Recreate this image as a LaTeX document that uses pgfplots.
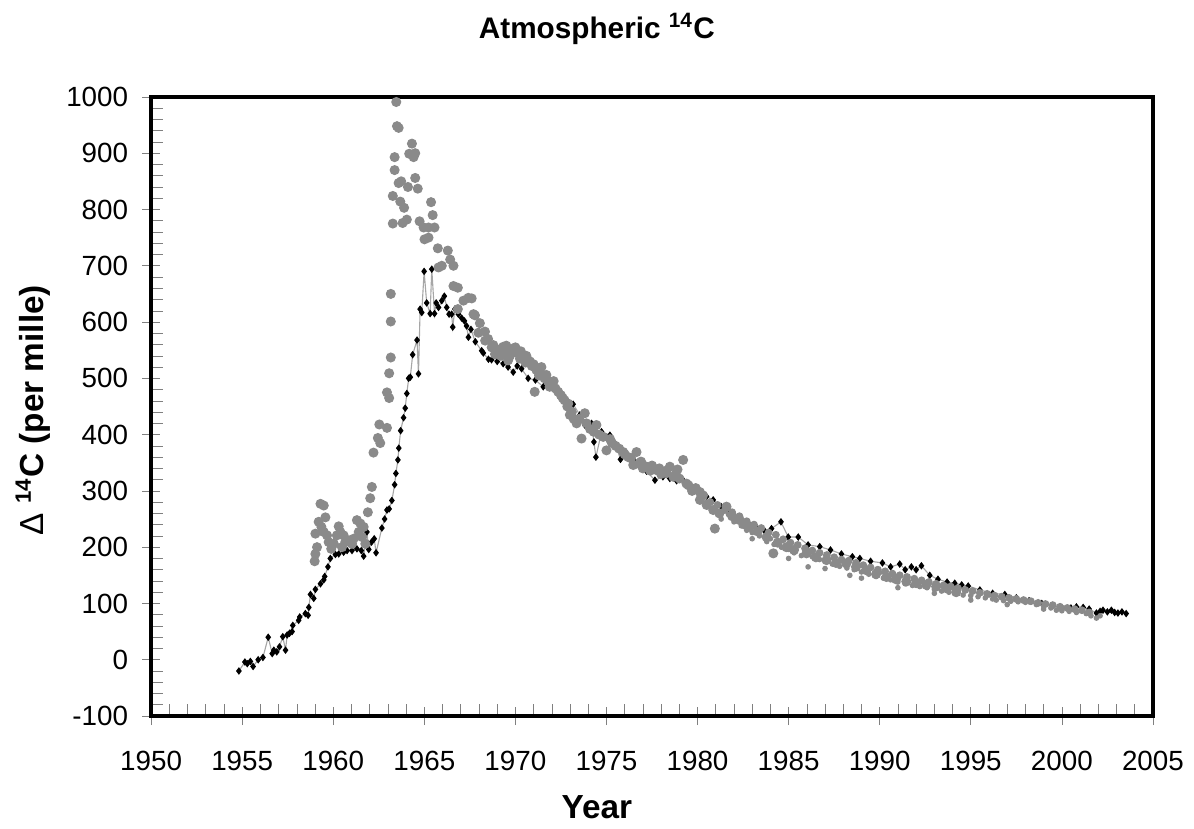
\documentclass[border=0pt]{standalone}
\usepackage{fontspec}
\setmainfont{Liberation Sans}
\usepackage{pgfplots}
\pgfplotsset{compat=1.18}
\definecolor{dotgray}{RGB}{138,138,138}
\begin{document}
\begin{tikzpicture}
\begin{axis}[
  scale only axis, width=360.7pt, height=222.9pt,
  xmin=1950, xmax=2005, ymin=-100, ymax=1000,
  xtick distance=5, ytick distance=100,
  minor x tick num=4, minor y tick num=4,
  xtick pos=bottom, ytick pos=left,
  tick align=center, major tick length=6.5pt, minor tick length=4.4pt,
  minor x tick style={yshift=2.2pt}, minor y tick style={xshift=2.2pt},
  axis line style={line width=1.4pt},
  ticklabel style={font=\fontsize{10}{12}\selectfont},
  xticklabel style={yshift=-6pt},
  yticklabel style={xshift=-1.5pt},
  /pgf/number format/1000 sep={},
  /pgf/number format/assume math mode=true,
  clip=false,
]
% black series (line with small markers)
\addplot[color=gray!70, line width=0.4pt, mark=diamond*, mark size=1.05pt,
  mark options={draw=black, fill=black}] coordinates {
(1954.82,-20)(1955.15,-4)(1955.28,-7)(1955.45,-3)(1955.6,-12)(1955.88,0)
(1956.14,4)(1956.43,40)(1956.65,11)(1956.74,17)(1956.9,14)(1957.05,23)
(1957.23,41)(1957.38,17)(1957.47,44)(1957.6,47)(1957.74,50)(1957.78,61)
(1958.1,70)(1958.16,76)(1958.47,82)(1958.62,79)(1958.66,93)(1958.75,116)
(1958.93,109)(1959.02,125)(1959.3,135)(1959.48,142)(1959.53,148)(1959.71,165)
(1959.84,180)(1960.12,187)(1960.3,188)(1960.57,191)(1960.76,194)(1961.03,194)
(1961.3,197)(1961.54,194)(1961.67,184)(1961.85,227)(1961.95,196)(1962.1,209)
(1962.25,215)(1962.35,190)(1962.67,234)(1962.82,250)(1962.95,266)(1963.07,268)
(1963.22,283)(1963.37,311)(1963.44,331)(1963.55,355)(1963.6,376)(1963.7,407)
(1963.86,430)(1963.95,447)(1964.04,473)(1964.14,500)(1964.23,502)(1964.36,542)
(1964.6,568)(1964.68,508)(1964.77,623)(1964.86,617)(1964.99,690)(1965.13,634)
(1965.32,615)(1965.41,694)(1965.56,615)(1965.65,634)(1965.78,626)(1965.96,638)
(1966.1,646)(1966.23,626)(1966.36,614)(1966.5,614)(1966.56,591)(1966.68,623)
(1966.87,614)(1967.05,607)(1967.2,602)(1967.32,593)(1967.42,573)(1967.56,587)
(1967.8,565)(1968.15,549)(1968.24,545)(1968.52,534)(1968.69,533)(1969.0,530)
(1969.33,526)(1969.6,520)(1969.88,511)(1970.1,522)(1970.34,517)(1970.7,500)
(1971.1,497)(1971.53,485)(1972.08,488)(1972.53,467)(1972.81,449)(1973.17,454)
(1973.54,435)(1973.81,417)(1974.18,420)(1974.31,387)(1974.42,360)(1974.73,405)
(1975.19,399)(1975.41,387)(1975.55,378)(1975.77,356)(1976.1,367)(1976.5,355)
(1976.83,349)(1977.2,335)(1977.66,319)(1978.1,325)(1978.48,322)(1978.85,318)
(1979.21,319)(1979.6,310)(1979.94,304)(1980.49,290)(1980.86,284)(1981.3,272)
(1981.8,262)(1982.3,250)(1982.8,242)(1983.3,232)(1983.7,228)(1984.06,233)
(1984.58,245)(1984.98,218)(1985.53,218)(1986.07,204)(1986.71,201)(1987.3,195)
(1987.9,188)(1988.5,183)(1988.91,180)(1989.5,175)(1990.15,172)(1990.6,165)
(1991.1,170)(1991.4,160)(1991.74,165)(1992.0,160)(1992.29,167)(1992.75,150)
(1993.2,143)(1993.7,138)(1994.12,136)(1994.5,133)(1994.86,131)(1995.5,124)
(1996.2,118)(1996.87,116)(1997.5,110)(1998.2,105)(1998.9,100)(1999.5,96)
(2000.0,93)(2000.5,92)(2000.8,94)(2001.17,93)(2001.5,90)(2001.9,83)
(2002.1,86)(2002.26,88)(2002.5,85)(2002.72,88)(2002.9,84)(2003.08,83)
(2003.3,85)(2003.53,82)
};
% grey series, large dots
\addplot[only marks, mark=*, mark size=1.6pt, color=dotgray] coordinates {
(1958.98,175)(1959.02,188)(1959.02,224)(1959.11,200)(1959.2,245)(1959.3,277)
(1959.35,236)(1959.48,274)(1959.48,227)(1959.57,253)(1959.66,221)(1959.75,209)
(1959.89,197)(1960.03,206)(1960.2,221)(1960.3,237)(1960.39,227)(1960.48,200)
(1960.57,221)(1960.66,209)(1960.88,212)(1961.03,206)(1961.12,215)(1961.3,248)
(1961.4,227)(1961.49,242)(1961.58,218)(1961.67,236)(1961.76,206)(1961.9,262)
(1962.03,287)(1962.12,307)(1962.21,368)(1962.45,394)(1962.53,418)(1962.58,385)
(1962.95,412)(1962.95,475)(1963.07,465)(1963.07,509)(1963.16,537)(1963.16,601)
(1963.16,650)(1963.27,775)(1963.27,824)(1963.37,870)(1963.37,893)(1963.46,991)
(1963.5,948)(1963.59,945)(1963.59,847)(1963.68,814)(1963.73,850)(1963.81,776)
(1963.89,803)(1964.04,782)(1964.1,840)(1964.17,899)(1964.32,917)(1964.41,893)
(1964.5,900)(1964.5,856)(1964.64,837)(1964.74,779)(1964.96,768)(1965.01,747)
(1965.23,768)(1965.23,750)(1965.37,813)(1965.46,790)(1965.56,768)(1965.74,731)
(1965.78,697)(1965.96,700)(1966.29,727)(1966.42,711)(1966.6,700)(1966.6,664)
(1966.84,661)(1966.84,623)(1967.15,638)(1967.42,643)(1967.6,642)(1967.7,614)
(1967.78,612)(1967.97,581)(1968.05,598)(1968.33,583)(1968.34,567)(1968.7,555)
(1968.79,559)(1968.88,543)(1969.1,548)(1969.33,556)(1969.45,545)(1969.6,532)
(1969.75,548)(1969.88,553)(1970.1,545)(1970.25,535)(1970.43,541)(1970.55,528)
(1970.7,532)(1970.9,522)(1971.06,476)(1971.15,515)(1971.3,505)(1971.43,520)
(1971.7,506)(1971.88,485)(1972.1,495)(1972.35,476)(1972.5,470)(1972.7,461)
(1972.85,450)(1972.99,435)(1973.2,428)(1973.36,420)(1973.63,393)(1973.81,438)
(1974.1,410)(1974.45,417)(1974.82,396)(1975.0,372)(1975.2,392)(1975.5,380)
(1975.92,369)(1976.2,360)(1976.47,346)(1976.65,369)(1976.9,352)(1977.2,343)
(1977.5,345)(1977.75,337)(1978.0,330)(1978.2,335)(1978.48,343)(1978.67,325)
(1978.9,338)(1979.21,355)(1979.39,313)(1979.7,300)(1980.13,298)(1980.13,284)
(1968.5,570)(1968.95,552)(1969.2,540)(1969.5,558)(1969.7,540)(1970.0,555)
(1970.3,548)(1970.6,540)(1970.8,530)(1971.0,525)(1971.25,512)(1971.6,500)
(1971.8,495)(1972.2,482)(1972.6,465)(1972.9,455)(1973.1,440)(1973.5,428)
(1973.9,420)(1974.3,405)(1974.6,400)(1975.3,385)(1975.7,375)(1976.0,365)
(1976.35,358)(1976.8,348)(1977.0,340)(1977.4,336)(1977.9,340)(1978.3,332)
(1978.8,330)(1979.0,322)(1979.5,310)(1979.9,305)(1980.3,292)
(1980.5,275)(1980.86,266)(1980.95,233)(1981.2,260)(1981.59,272)(1981.9,255)
(1982.32,248)(1982.6,240)(1982.87,236)(1983.3,228)(1983.79,218)(1984.16,189)
(1984.4,208)(1984.88,200)(1985.3,195)(1985.98,189)(1986.5,182)(1987.08,177)
(1987.6,172)(1988.17,171)(1988.7,165)(1989.27,159)(1989.8,152)(1990.37,147)
(1990.9,143)(1991.46,139)(1992.0,136)(1992.56,133)(1993.1,130)(1993.66,127)
(1994.2,120)
};
% grey series, medium dots (upper edge of the band)
\addplot[only marks, mark=*, mark size=1.2pt, color=dotgray] coordinates {
(1980.7,280)(1981.1,275)(1981.5,266)(1981.9,262)(1982.3,255)(1982.7,246)
(1983.1,240)(1983.5,234)(1983.9,226)(1984.3,222)(1984.7,214)(1985.1,208)
(1985.5,204)(1985.9,198)(1986.3,194)(1986.7,190)(1987.1,186)(1987.5,182)
(1987.9,178)(1988.3,176)(1988.7,172)(1989.1,168)(1989.5,164)(1989.9,160)
(1990.3,157)(1990.7,153)(1991.1,150)(1991.5,147)(1991.9,144)(1992.3,141)
(1992.7,138)(1993.1,135)(1993.5,132)(1993.9,130)(1994.3,127)(1994.7,124)
(1995.1,122)(1995.5,119)(1995.9,117)(1996.3,114)(1996.7,112)(1997.1,110)
(1997.5,108)(1997.9,106)(1998.3,104)(1998.7,101)(1999.1,99)(1999.5,97)
(1999.9,94)(2000.3,92)(2000.7,90)(2001.1,88)(2001.5,84)
};
% grey series, small dots
\addplot[only marks, mark=*, mark size=0.8pt, color=dotgray] coordinates {
(1980.5,280)(1981.0,265)(1981.3,250)(1981.7,258)(1982.0,245)(1982.4,238)
(1982.7,230)(1983.0,226)(1983.0,215)(1983.4,220)(1983.8,210)(1984.0,215)
(1984.2,205)(1984.6,200)(1985.0,196)(1985.0,180)(1985.3,190)(1985.7,185)
(1986.0,193)(1986.07,165)(1986.3,183)(1986.7,178)(1987.0,175)(1987.0,162)
(1987.4,170)(1987.8,166)(1988.0,175)(1988.2,163)(1988.36,150)(1988.6,160)
(1989.0,156)(1989.0,145)(1989.4,152)(1989.8,148)(1990.0,155)(1990.2,145)
(1990.6,142)(1991.0,138)(1991.0,128)(1991.4,135)(1991.8,132)(1992.0,140)
(1992.2,130)(1992.6,128)(1993.0,125)(1993.0,118)(1993.4,122)(1993.8,120)
(1994.0,128)(1994.2,118)(1994.58,115)(1995.0,114)(1995.0,106)(1995.4,112)
(1995.8,110)(1996.0,115)(1996.2,108)(1996.4,106)(1996.8,105)(1997.0,98)
(1997.2,104)(1997.6,103)(1998.0,102)(1998.0,105)(1998.24,103)(1998.6,98)
(1999.0,95)(1999.0,90)(1999.4,92)(1999.7,88)(2000.0,87)(2000.0,92)
(2000.4,86)(2000.8,84)(2001.34,82)(2001.6,78)(2001.9,74)(2002.1,78)
};
\node[anchor=base, font=\fontsize{10.7}{12}\selectfont\bfseries]
  at (rel axis cs:0.445,1) [yshift=20.9pt] {Atmospheric \textsuperscript{14}C};
\node[anchor=base, font=\fontsize{12}{14}\selectfont\bfseries]
  at (rel axis cs:0.445,0) [yshift=-37pt] {Year};
\node[xshift=-38.9pt, rotate=90, anchor=base, font=\fontsize{12}{14}\selectfont\bfseries]
  at (rel axis cs:0,0.494) {{\mdseries Δ} \textsuperscript{14}C (per mille)};
\coordinate (sw) at (rel axis cs:0,0);
\coordinate (ne) at (rel axis cs:1,1);
\end{axis}
\path ([shift={(-54.4pt,-39.2pt)}]sw) rectangle ([shift={(14.8pt,34.9pt)}]ne);
\end{tikzpicture}
\end{document}
